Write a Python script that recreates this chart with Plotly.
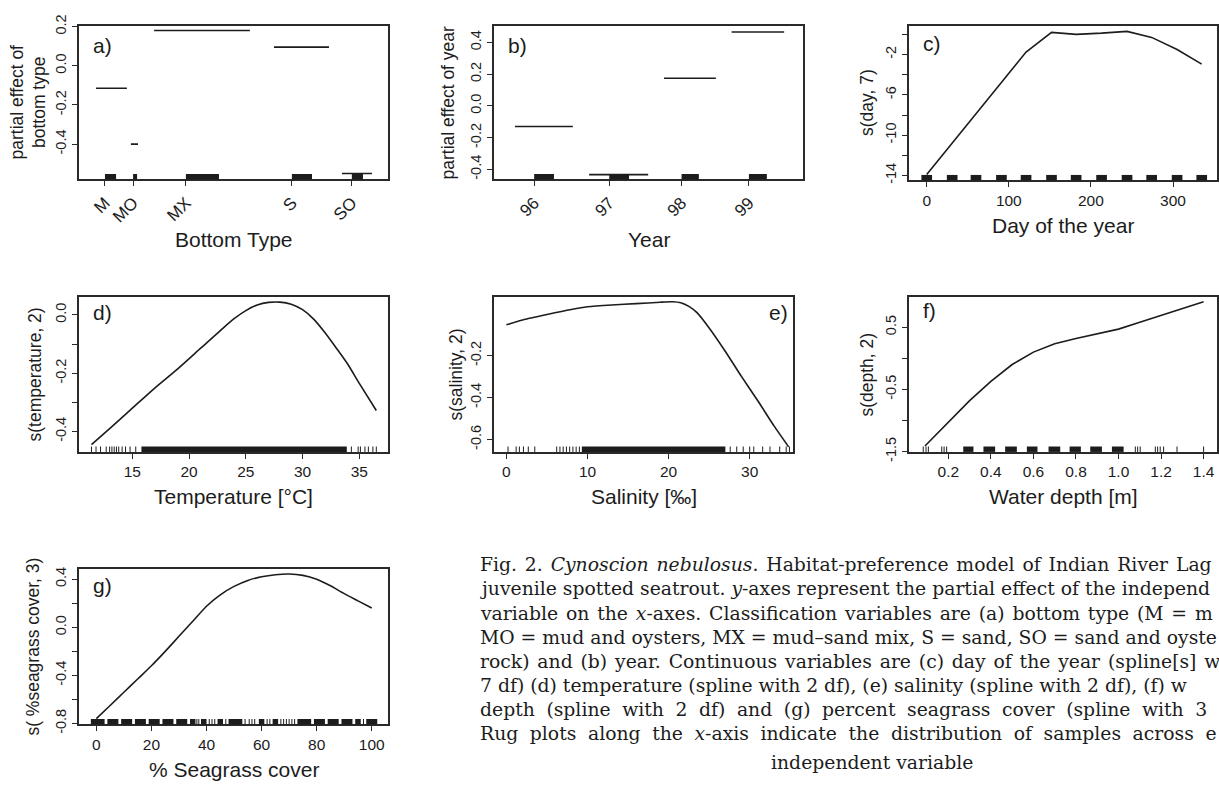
import plotly.graph_objects as go

# ------------------------------------------------------------------ data
# (a) bottom type: categorical partial effects
bottom_types = ["M", "MO", "MX", "S", "SO"]
bottom_pos = [8.4, 17.5, 34.6, 68.9, 88.3]
bottom_seg_from = [5.5, 16.8, 24.3, 63.1, 85.1]
bottom_seg_to = [15.5, 19.1, 55.3, 80.9, 94.8]
bottom_effect = [-0.115, -0.40, 0.18, 0.095, -0.55]
bottom_rug_to = [12.0, 18.8, 45.3, 75.4, 91.9]

# (b) year
years = ["96", "97", "98", "99"]
year_pos = [13.0, 37.3, 60.7, 82.5]
year_seg_from = [6.8, 30.8, 55.0, 76.9]
year_seg_to = [25.5, 49.9, 71.8, 93.9]
year_effect = [-0.13, -0.433, 0.174, 0.466]
year_rug_to = [19.4, 43.7, 66.3, 88.3]

# (c) day of the year
day = [0, 31, 60, 91, 121, 152, 182, 213, 244, 274, 305, 335]
s_day = [-13.9, -10.8, -7.9, -4.8, -1.75, 0.2, 0.0, 0.12, 0.3, -0.3, -1.5, -2.95]
day_rug = [0, 31, 60, 91, 121, 152, 182, 213, 244, 274, 305, 335]

# (d) temperature
temp = [11.4, 13, 15, 17, 19, 21, 23, 24, 25, 26, 27, 28, 29, 30, 31, 32, 33, 34, 35, 36.5]
s_temp = [-0.445, -0.39, -0.32, -0.25, -0.185, -0.115, -0.045, -0.012, 0.015, 0.034,
          0.043, 0.044, 0.037, 0.018, -0.015, -0.062, -0.115, -0.17, -0.235, -0.328]
temp_rug_ticks = [11.4, 11.8, 12.2, 12.7, 13.0, 13.2, 13.4, 13.6, 13.8, 14.1, 14.4, 14.8,
                  15.3, 34.3, 34.9, 35.1, 35.5, 35.8, 36.2, 36.5]
temp_rug_dense = [(15.8, 33.9)]

# (e) salinity
sal = [0, 2, 5, 8, 10, 13, 16, 19, 20.5, 21.5, 22.5, 23.5, 25, 27, 29, 31, 33, 34.8]
s_sal = [-0.053, -0.03, -0.004, 0.02, 0.033, 0.042, 0.048, 0.055, 0.057, 0.052, 0.035,
         0.005, -0.068, -0.18, -0.3, -0.415, -0.535, -0.635]
sal_rug_ticks = [0.2, 1.2, 1.6, 2.1, 2.7, 3.5, 6.2, 6.6, 7.0, 7.4, 7.8, 8.2, 8.6, 9.0,
                 27.6, 28.4, 29.2, 30.0, 30.5, 31.6, 32.5, 33.7, 34.5, 34.9]
sal_rug_dense = [(9.3, 27.0)]

# (f) water depth
depth = [0.09, 0.2, 0.3, 0.4, 0.5, 0.6, 0.7, 0.8, 0.9, 1.0, 1.1, 1.2, 1.3, 1.4]
s_depth = [-1.41, -1.02, -0.68, -0.37, -0.10, 0.10, 0.235, 0.32, 0.39, 0.47, 0.58, 0.69,
           0.80, 0.91]
depth_rug_ticks = [0.082, 0.095, 0.106, 0.169, 0.18, 0.192, 1.079, 1.09, 1.102, 1.173,
                   1.184, 1.196, 1.212, 1.275, 1.4]
depth_rug_dense = [(0.27, 0.318), (0.365, 0.42), (0.467, 0.522), (0.569, 0.619),
                   (0.671, 0.726), (0.77, 0.823), (0.867, 0.922), (0.969, 1.024)]

# (g) seagrass cover
cover = [0, 5, 10, 15, 20, 25, 30, 35, 40, 45, 50, 55, 60, 65, 70, 75, 80, 85, 90, 95, 100]
s_cover = [-0.76, -0.65, -0.54, -0.43, -0.32, -0.2, -0.075, 0.05, 0.175, 0.27, 0.34, 0.39,
           0.42, 0.437, 0.443, 0.432, 0.40, 0.345, 0.28, 0.22, 0.16]
cover_rug_dense = [(-2, 3), (4, 8), (9, 13), (14, 18), (19, 23), (24, 28), (29, 33),
                   (34, 36), (38, 40), (44, 46), (48, 53), (59, 61), (64, 66), (73, 78),
                   (79, 83), (84, 88), (89, 93), (94, 96), (98, 102)]
cover_rug_ticks = [36.5, 37.2, 41, 42, 43, 47, 54, 55.5, 56.5, 57.5, 62, 63, 67, 68,
                   69, 70, 71, 72, 97]

# caption, as much of each line as the reference shows (it runs off the right edge)
caption_lines = [
    "Fig. 2. <i>Cynoscion nebulosus</i>. Habitat-preference model of Indian River Lag",
    "juvenile spotted seatrout. <i>y</i>-axes represent the partial effect of the independ",
    "variable on the <i>x</i>-axes. Classification variables are (a) bottom type (M = m",
    "MO = mud and oysters, MX = mud\u2013sand mix, S = sand, SO = sand and oyste",
    "rock) and (b) year. Continuous variables are (c) day of the year (spline[s] w",
    "7 df) (d) temperature (spline with 2 df), (e) salinity (spline with 2 df), (f) w",
    "depth (spline with 2 df) and (g) percent seagrass cover (spline with 3",
    "Rug plots along the <i>x</i>-axis indicate the distribution of samples across e",
]
caption_last = "independent variable"
# extra hair spaces per word gap (imitates the justified setting of the caption)
caption_gap_pad = [1, 0, 1, 0, 1, 0, 3, 3]

# ------------------------------------------------------------------ layout helpers
W, H = 1219, 788
INK = "#1c1c1c"
SANS = "Liberation Sans, Arial, sans-serif"
SERIF = "DejaVu Serif, serif"


def xdom(a, b):
    return [a / W, b / W]


def ydom(top, bottom):
    return [1 - bottom / H, 1 - top / H]


panels = {
    # id: (x px, y px)
    1: ((79, 388), (15, 173)),
    2: ((494, 803), (15, 173)),
    3: ((909, 1217), (15, 174)),
    4: ((79, 388), (294, 453)),
    5: ((494, 793), (294, 453)),
    6: ((909, 1217), (294, 453)),
    7: ((79, 388), (573, 733)),
}

fig = go.Figure()
shapes = []
annotations = []
RUG_H = 0.035


def ax_name(kind, i):
    return kind if i == 1 else f"{kind}{i}"


def ref(kind, i):
    return kind if i == 1 else f"{kind}{i}"


def add_curve(i, x, y, shape="linear"):
    fig.add_trace(go.Scatter(x=x, y=y, mode="lines", xaxis=ref("x", i), yaxis=ref("y", i),
                             line=dict(color=INK, width=1.6, shape=shape, smoothing=0.6),
                             showlegend=False, hoverinfo="skip"))


def add_segments(i, x0s, x1s, ys):
    xs, yy = [], []
    for a, b, v in zip(x0s, x1s, ys):
        xs += [a, b, None]
        yy += [v, v, None]
    fig.add_trace(go.Scatter(x=xs, y=yy, mode="lines", xaxis=ref("x", i), yaxis=ref("y", i),
                             line=dict(color=INK, width=1.6), showlegend=False,
                             hoverinfo="skip"))


def rug_block(i, a, b):
    shapes.append(dict(type="rect", xref=ref("x", i), yref=ref("y", i) + " domain",
                       x0=a, x1=b, y0=0, y1=RUG_H, fillcolor=INK, line=dict(width=0),
                       layer="above"))


def rug_tick(i, v):
    shapes.append(dict(type="line", xref=ref("x", i), yref=ref("y", i) + " domain",
                       x0=v, x1=v, y0=0, y1=RUG_H, line=dict(color=INK, width=1),
                       layer="above"))


def set_axes(i, xr, yr, xticks, xtext, yticks, ytext, xangle=0, xfont=15.5):
    (xa, xb), (yt, yb) = panels[i]
    common = dict(showline=True, mirror=True, linecolor="#2a2a2a", linewidth=1.8,
                  ticks="outside", ticklen=5, tickwidth=1, tickcolor="#2a2a2a",
                  showgrid=False, zeroline=False, fixedrange=True)
    fig.layout[ax_name("xaxis", i)] = dict(
        domain=xdom(xa, xb), range=xr, anchor=ref("y", i), tickmode="array",
        tickvals=xticks, ticktext=xtext, tickangle=xangle,
        tickfont=dict(family=SANS, size=xfont, color=INK), **common)
    fig.layout[ax_name("yaxis", i)] = dict(
        domain=ydom(yt, yb), range=yr, anchor=ref("x", i), tickmode="array",
        tickvals=yticks, ticktext=ytext, tickangle=-90,
        tickfont=dict(family=SANS, size=14.5, color=INK), **common)


def xtitle(i, text, shift):
    annotations.append(dict(text=text, xref=ref("x", i) + " domain",
                            yref=ref("y", i) + " domain", x=0.5, y=0, yshift=-shift,
                            xanchor="center", yanchor="middle", showarrow=False,
                            font=dict(family=SANS, size=21, color=INK)))


def ytitle(i, text, shift):
    annotations.append(dict(text=text, xref=ref("x", i) + " domain",
                            yref=ref("y", i) + " domain", x=0, y=0.5, xshift=-shift,
                            xanchor="center", yanchor="middle", textangle=-90,
                            showarrow=False,
                            font=dict(family=SANS, size=17.5, color=INK)))


def plabel(i, text, right=False, down=17):
    annotations.append(dict(text=text, xref=ref("x", i) + " domain",
                            yref=ref("y", i) + " domain", x=1 if right else 0, y=1,
                            xshift=-3 if right else 12, yshift=-down,
                            xanchor="right" if right else "left", yanchor="middle",
                            showarrow=False, font=dict(family=SANS, size=21, color=INK)))


def fmt(v, nd=1):
    return f"{v:.{nd}f}"


# ---- (a)
add_segments(1, bottom_seg_from, bottom_seg_to, bottom_effect)
for a, b in zip(bottom_pos, bottom_rug_to):
    rug_block(1, a, b)
set_axes(1, [0, 100], [-0.58, 0.205], bottom_pos, bottom_types,
         [-0.4, -0.2, 0.0, 0.2], ["-0.4", "-0.2", "0.0", "0.2"], xangle=-45, xfont=17)
xtitle(1, "Bottom Type", 60)
ytitle(1, "partial effect of<br>bottom type", 51)
plabel(1, "a)", down=20)

# ---- (b)
add_segments(2, year_seg_from, year_seg_to, year_effect)
for a, b in zip(year_pos, year_rug_to):
    rug_block(2, a, b)
yb = [-0.4, -0.2, 0.0, 0.2, 0.4]
set_axes(2, [0, 100], [-0.463, 0.506], year_pos, years, yb, [fmt(v) for v in yb],
         xangle=-45, xfont=17)
xtitle(2, "Year", 60)
ytitle(2, "partial effect of year", 46)
plabel(2, "b)", down=20)

# ---- (c)
add_curve(3, day, s_day)
for d in day_rug:
    rug_block(3, d - 6.5, d + 6.5)
yc = [-14, -12, -10, -8, -6, -4, -2, 0]
yc_lab = ["-14", "", "-10", "", "-6", "", "-2", ""]
set_axes(3, [-21.6, 353.6], [-14.48, 0.87], [0, 100, 200, 300],
         ["0", "100", "200", "300"], yc, yc_lab)
xtitle(3, "Day of the year", 45)
ytitle(3, "s(day, 7)", 42)
plabel(3, "c)", down=18)

# ---- (d)
add_curve(4, temp, s_temp, "spline")
for a, b in temp_rug_dense:
    rug_block(4, a, b)
for v in temp_rug_ticks:
    rug_tick(4, v)
yd = [-0.4, -0.3, -0.2, -0.1, 0.0]
set_axes(4, [10.3, 37.53], [-0.47, 0.061], [15, 20, 25, 30, 35],
         ["15", "20", "25", "30", "35"], yd, ["-0.4", "", "-0.2", "", "0.0"])
xtitle(4, "Temperature [°C]", 45)
ytitle(4, "s(temperature, 2)", 44)
plabel(4, "d)", down=15)

# ---- (e)
add_curve(5, sal, s_sal, "spline")
for a, b in sal_rug_dense:
    rug_block(5, a, b)
for v in sal_rug_ticks:
    rug_tick(5, v)
ye = [-0.6, -0.4, -0.2]
set_axes(5, [-1.53, 35.34], [-0.659, 0.079], [0, 10, 20, 30],
         ["0", "10", "20", "30"], ye, [fmt(v) for v in ye])
xtitle(5, "Salinity [‰]", 45)
ytitle(5, "s(salinity, 2)", 38)
plabel(5, "e)", right=True, down=15)

# ---- (f)
add_curve(6, depth, s_depth)
for a, b in depth_rug_dense:
    rug_block(6, a, b)
for v in depth_rug_ticks:
    rug_tick(6, v)
xf = [0.2, 0.4, 0.6, 0.8, 1.0, 1.2, 1.4]
yf = [-1.5, -1.0, -0.5, 0.0, 0.5]
set_axes(6, [0.015, 1.463], [-1.506, 0.984], xf, [fmt(v) for v in xf],
         yf, ["-1.5", "", "-0.5", "", "0.5"])
xtitle(6, "Water depth [m]", 45)
ytitle(6, "s(depth, 2)", 42)
plabel(6, "f)", down=13)

# ---- (g)
add_curve(7, cover, s_cover, "spline")
for a, b in cover_rug_dense:
    rug_block(7, a, b)
for v in cover_rug_ticks:
    rug_tick(7, v)
yg = [-0.8, -0.6, -0.4, -0.2, 0.0, 0.2, 0.4]
set_axes(7, [-6.3, 105.9], [-0.808, 0.487], [0, 20, 40, 60, 80, 100],
         ["0", "20", "40", "60", "80", "100"], yg,
         ["-0.8", "", "-0.4", "", "0.0", "", "0.4"])
xtitle(7, "% Seagrass cover", 45)
ytitle(7, "s( %seagrass cover, 3)", 46)
plabel(7, "g)", down=17)

# ---- caption
CAP_X = 478
CAP_TOP = 569
CAP_STEP = 24.8
CAP_SIZE = 18.8
for k, line in enumerate(caption_lines):
    text = line.replace(" ", " " + "\u200a" * caption_gap_pad[k])
    annotations.append(dict(text=text, xref="paper", yref="paper", x=CAP_X / W,
                            y=1 - (CAP_TOP + k * CAP_STEP) / H, xanchor="left",
                            yanchor="middle", showarrow=False, align="left",
                            font=dict(family=SERIF, size=CAP_SIZE, color=INK)))
annotations.append(dict(text=caption_last, xref="paper", yref="paper", x=872 / W,
                        y=1 - 772 / H, xanchor="center", yanchor="middle",
                        showarrow=False,
                        font=dict(family=SERIF, size=CAP_SIZE, color=INK)))

fig.update_layout(width=W, height=H, margin=dict(l=0, r=0, t=0, b=0),
                  paper_bgcolor="white", plot_bgcolor="white", showlegend=False,
                  shapes=shapes, annotations=annotations)

fig.write_html("out.html", include_plotlyjs=True, config={"displayModeBar": False})
